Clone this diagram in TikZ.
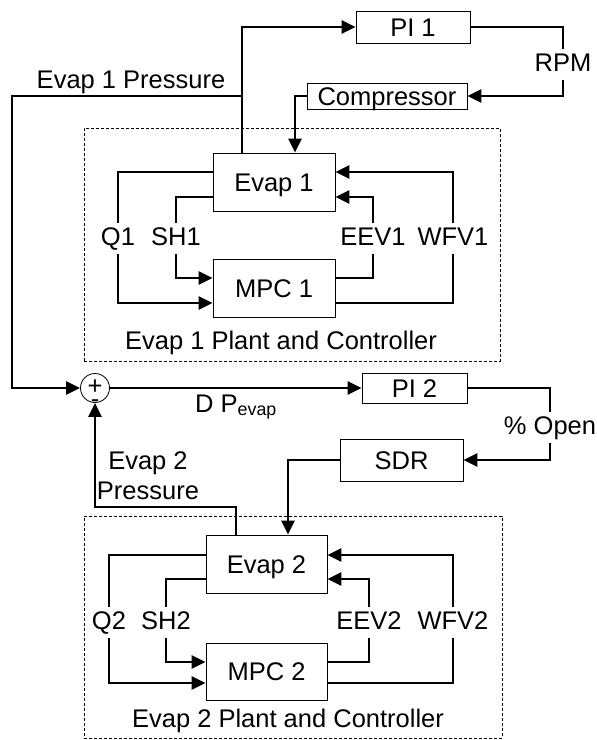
\documentclass[tikz,border=0pt]{standalone}
\usepackage{fontspec}
\setmainfont{Liberation Sans}
\usetikzlibrary{arrows.meta,calc}
\begin{document}
\begin{tikzpicture}[x=1pt,y=-1pt,
  every node/.style={font=\fontsize{25.5}{30}\selectfont},
  blk/.style={draw, line width=0.8pt, inner sep=0pt, text height=18.4pt, text depth=0pt},
  lbl/.style={inner xsep=1pt, inner ysep=3pt, text height=18.4pt, text depth=5.6pt, anchor=base},
  plainlbl/.style={inner sep=0pt, anchor=base},
  plantbox/.style={draw, dash pattern=on 3pt off 2pt, line width=0.7pt, inner sep=0pt},
  sig/.style={line width=2.8pt},
  arr/.style={sig, -{Triangle[length=14pt,width=13pt]}},
]
\useasboundingbox (0,0) rectangle (597,740);

% plant frames
\node[plantbox, minimum width=416pt, minimum height=233pt] (plant1) at (292,244.5) {};
\node[plantbox, minimum width=418pt, minimum height=222pt] (plant2) at (293,627) {};

% blocks
\node[blk, minimum width=114pt, minimum height=32pt] (pi1) at (413,27) {PI 1};
\node[blk, minimum width=160pt, minimum height=26pt] (comp) at (387,96) {Compressor};
\node[blk, minimum width=122pt, minimum height=58pt] (evap1) at (274,182) {Evap 1};
\node[blk, minimum width=122pt, minimum height=58pt] (mpc1) at (274,288) {MPC 1};
\node[blk, minimum width=105pt, minimum height=30pt] (pi2) at (414.5,388) {PI 2};
\node[blk, minimum width=123pt, minimum height=42pt] (sdr) at (401.5,460) {SDR};
\node[blk, minimum width=121pt, minimum height=58pt] (evap2) at (266.5,564) {Evap 2};
\node[blk, minimum width=121pt, minimum height=57pt] (mpc2) at (266.5,671.5) {MPC 2};

% summing junction
\node[draw, circle, line width=0.8pt, minimum size=29pt, inner sep=0pt] (sum) at (95,388) {};
\node[inner sep=0pt, text height=17.8pt, text depth=0pt] (plus) at (95,386) {+};
\node[plainlbl] (minus) at (95,407) {-};

% labels
\node[plainlbl] (ep1) at (131,88) {Evap 1 Pressure};
\node[lbl] (rpm) at (563,71) {RPM};
\node[lbl] (q1) at (118,245) {Q1};
\node[lbl] (sh1) at (176,245) {SH1};
\node[lbl] (eev1) at (373,245) {EEV1};
\node[lbl] (wfv1) at (453,245) {WFV1};
\node[plainlbl] (pl1) at (281,349.5) {Evap 1 Plant and Controller};
\node[plainlbl, anchor=base west] (dp) at (195,412) {D P\textsubscript{evap}};
\node[lbl] (open) at (550,434) {\% Open};
\node[inner sep=0pt, align=center] (ep2) at (148,476) {Evap 2\\Pressure};
\node[lbl] (q2) at (109,629) {Q2};
\node[lbl] (sh2) at (166,629) {SH2};
\node[lbl] (eev2) at (369,629) {EEV2};
\node[lbl] (wfv2) at (453,629) {WFV2};
\node[plainlbl] (pl2) at (288,727.5) {Evap 2 Plant and Controller};

% helper coordinates
\coordinate (j1) at (242,96);
\coordinate (c1) at (12,96);
\coordinate (c3) at (95,507);

% top loop
\draw[arr] (evap1.north -| j1) -- (j1) |- (pi1.west);
\draw[arr] (j1) -- (c1) |- (sum.west);
\draw[sig] (pi1.east) -| (rpm.north);
\draw[arr] (rpm.south) |- (comp.east);
\draw[arr] (comp.west) -| ([xshift=21pt]evap1.north);

% unit 1 internal
\draw[sig] ([yshift=10pt]evap1.west) -| (q1.north);
\draw[arr] (q1.south) |- ([yshift=-15pt]mpc1.west);
\draw[sig] ([yshift=-15pt]evap1.west) -| (sh1.north);
\draw[arr] (sh1.south) |- ([yshift=10pt]mpc1.west);
\draw[sig] ([yshift=10pt]mpc1.east) -| (eev1.south);
\draw[arr] (eev1.north) |- ([yshift=-15pt]evap1.east);
\draw[sig] ([yshift=-15pt]mpc1.east) -| (wfv1.south);
\draw[arr] (wfv1.north) |- ([yshift=10pt]evap1.east);

% middle loop
\draw[arr] (sum.east) -- (pi2.west);
\draw[sig] (pi2.east) -| (open.north);
\draw[arr] (open.south) |- (sdr.east);
\draw[arr] (sdr.west) -| ([xshift=21.5pt]evap2.north);
\draw[arr] ([xshift=-30.5pt]evap2.north) |- (c3) -- (sum.south);

% unit 2 internal
\draw[sig] ([yshift=9pt]evap2.west) -| (q2.north);
\draw[arr] (q2.south) |- ([yshift=-11.5pt]mpc2.west);
\draw[sig] ([yshift=-15pt]evap2.west) -| (sh2.north);
\draw[arr] (sh2.south) |- ([yshift=9.5pt]mpc2.west);
\draw[sig] ([yshift=9.5pt]mpc2.east) -| (eev2.south);
\draw[arr] (eev2.north) |- ([yshift=-15pt]evap2.east);
\draw[sig] ([yshift=-11.5pt]mpc2.east) -| (wfv2.south);
\draw[arr] (wfv2.north) |- ([yshift=9pt]evap2.east);
\end{tikzpicture}
\end{document}
